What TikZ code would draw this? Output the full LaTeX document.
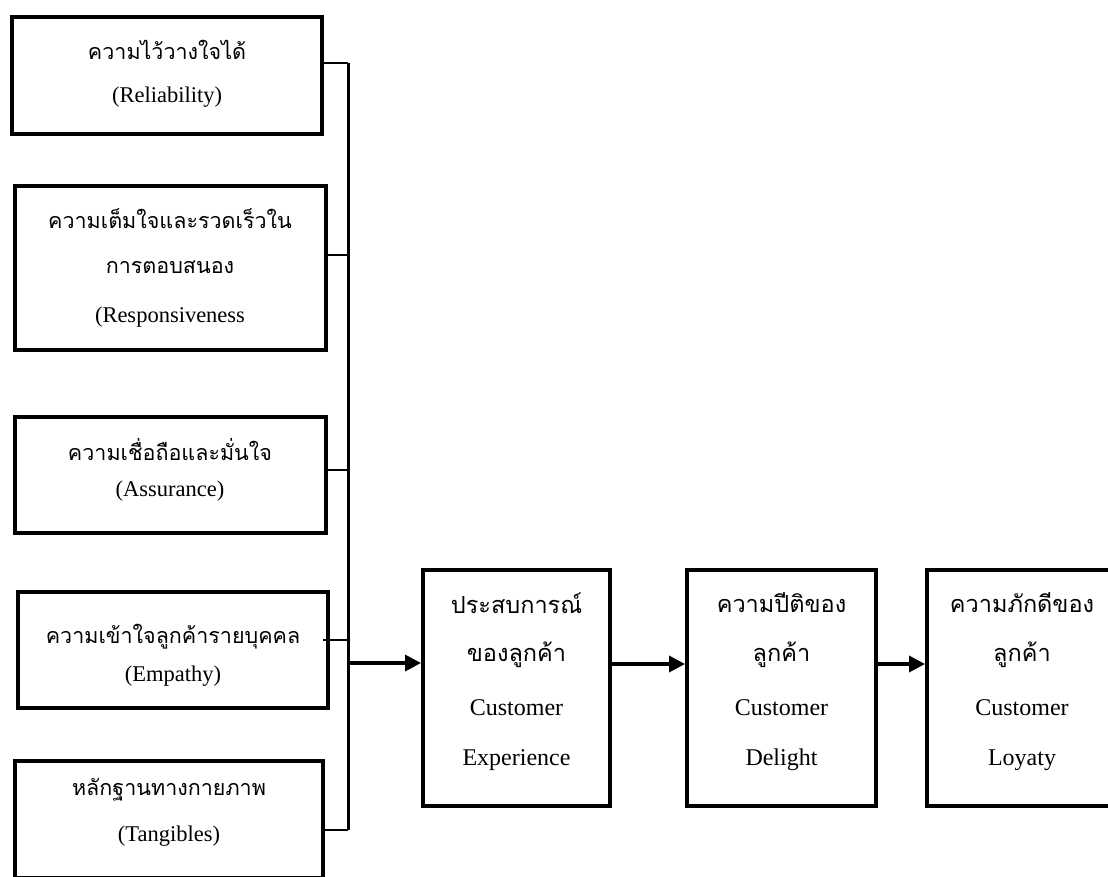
\documentclass[tikz,border=0pt]{standalone}
\usepackage{fontspec}
\setmainfont{Liberation Serif}
\newfontfamily\thaifont[Script=Thai]{Loma}
\usetikzlibrary{arrows.meta}

\begin{document}
\begin{tikzpicture}[x=1pt,y=-1pt,
  box/.style={draw=black, line width=4pt, fill=white, inner sep=0pt},
  th/.style={font=\thaifont\fontsize{21.5}{25}\selectfont, inner sep=0pt},
  en/.style={font=\fontsize{22.5}{26}\selectfont, inner sep=0pt},
  enbig/.style={font=\fontsize{24}{28}\selectfont, inner sep=0pt},
  thbig/.style={font=\thaifont\fontsize{23.5}{28}\selectfont, inner sep=0pt},
  bus/.style={line width=3pt},
  tick/.style={line width=2pt},
  arr/.style={line width=3.5pt, -{Triangle[length=16pt,width=16pt]}}]
\useasboundingbox (0,0) rectangle (1108,876);

% five service-quality factors
\node[box, minimum width=310pt, minimum height=117pt] (r1) at (167,75.5) {};
\node[box, minimum width=311pt, minimum height=164pt] (r2) at (170.5,268) {};
\node[box, minimum width=311pt, minimum height=116pt] (r3) at (170.5,475) {};
\node[box, minimum width=310pt, minimum height=116pt] (r4) at (173,650) {};
\node[box, minimum width=308pt, minimum height=117pt] (r5) at (169,819.5) {};

\node[th] (r1a) at (167,50) {ความไว้วางใจได้};
\node[en] (r1b) at (167,97) {(Reliability)};
\node[th] (r2a) at (170,219) {ความเต็มใจและรวดเร็วใน};
\node[th] (r2b) at (170,267) {การตอบสนอง};
\node[en] (r2c) at (170,317) {(Responsiveness};
\node[th] (r3a) at (170,449) {ความเชื่อถือและมั่นใจ};
\node[en] (r3b) at (170,491) {(Assurance)};
\node[th] (r4a) at (173,637) {ความเข้าใจลูกค้ารายบุคคล};
\node[en] (r4b) at (173,676) {(Empathy)};
\node[th] (r5a) at (169,790) {หลักฐานทางกายภาพ};
\node[en] (r5b) at (169,836) {(Tangibles)};

% outcome chain
\node[box, minimum width=187pt, minimum height=236pt] (ce) at (516.5,688) {};
\node[box, minimum width=189pt, minimum height=236pt] (cd) at (781.5,688) {};
\node[box, minimum width=190pt, minimum height=236pt] (cl) at (1022,688) {};

\node[thbig] (ce1) at (516.5,603) {ประสบการณ์};
\node[thbig] (ce2) at (516.5,655) {ของลูกค้า};
\node[enbig] (ce3) at (516.5,708) {Customer};
\node[enbig] (ce4) at (516.5,760) {Experience};
\node[thbig] (cd1) at (781.5,603) {ความปีติของ};
\node[thbig] (cd2) at (781.5,655) {ลูกค้า};
\node[enbig] (cd3) at (781.5,708) {Customer};
\node[enbig] (cd4) at (781.5,760) {Delight};
\node[thbig] (cl1) at (1022,603) {ความภักดีของ};
\node[thbig] (cl2) at (1022,655) {ลูกค้า};
\node[enbig] (cl3) at (1022,708) {Customer};
\node[enbig] (cl4) at (1022,760) {Loyaty};

% collecting bus
\coordinate (t1) at (348,63);
\coordinate (t2) at (348,255);
\coordinate (t3) at (348,470);
\coordinate (t4) at (348,640);
\coordinate (t5) at (348,830);
\coordinate (j) at (348,663);
\draw[bus] (t1) -- (t5);
\draw[tick] (t1 -| r1.east) -- (t1);
\draw[tick] (t2 -| r2.east) -- (t2);
\draw[tick] (t3 -| r3.east) -- (t3);
\draw[tick] ([xshift=-7pt]t4 -| r4.east) -- (t4);
\draw[tick] (t5 -| r5.east) -- (t5);

% arrows
\draw[arr] (j) -- (j -| ce.west);
\coordinate (a2) at (612,664);
\draw[arr] (a2 -| ce.east) -- (a2 -| cd.west);
\draw[arr] (a2 -| cd.east) -- (a2 -| cl.west);
\end{tikzpicture}
\end{document}
